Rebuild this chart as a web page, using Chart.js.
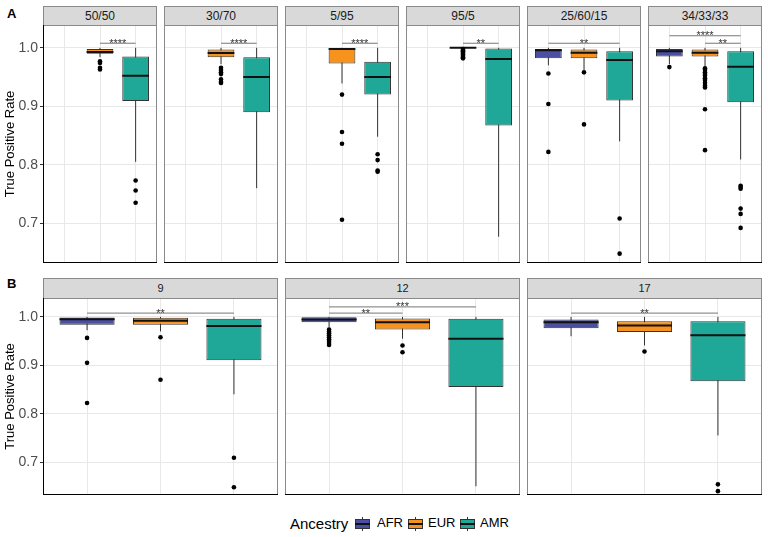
<!DOCTYPE html>
<html>
<head>
<meta charset="utf-8">
<script src="https://cdn.jsdelivr.net/npm/chart.js@4.4.1/dist/chart.umd.min.js"></script>
<style>
body{margin:0;background:#fff;font-family:"Liberation Sans",Arial,sans-serif;}
#fig{position:relative;width:768px;height:537px;overflow:hidden;background:#fff;}
canvas{position:absolute;}
.strip{position:absolute;box-sizing:border-box;background:#d9d9d9;border:1px solid #8a8a8a;color:#1a1a1a;text-align:center;}
.tag{position:absolute;font-weight:bold;font-size:13px;color:#000;}
.leg{position:absolute;color:#000;white-space:nowrap;}
.key{position:absolute;width:15px;height:14px;}
.key .wh{position:absolute;left:7px;top:0;width:1px;height:14px;background:#333;}
.key .bx{position:absolute;left:0;top:2px;width:15px;height:10px;box-sizing:border-box;border:1px solid #333;}
.key .md{position:absolute;left:0;top:6px;width:15px;height:2px;background:#111;}
</style>
</head>
<body>
<div id="fig">
  <div class="tag" style="left:7px;top:6px;">A</div>
  <div class="tag" style="left:7px;top:276px;">B</div>
</div>

<script>
var ancestries = ['AFR', 'EUR', 'AMR'];
var colours = ['#4b4fa2', '#f7931d', '#1fa898'];

var topFacets = ['50/50', '30/70', '5/95', '95/5', '25/60/15', '34/33/33'];
var bottomFacets = ['9', '12', '17'];
var yTicks = [0.7, 0.8, 0.9, 1.0];

// per ancestry: [lower whisker, Q1, median, Q3, upper whisker]; null = not in this mix
var box_50_50 = [null, [0.984, 0.990, 0.993, 0.998, 1.000], [0.805, 0.909, 0.952, 0.985, 1.000]];
var out_50_50 = [[], [0.977, 0.974, 0.966, 0.963], [0.773, 0.756, 0.735]];
var sig_50_50 = [['EUR', 'AMR', '****']];

var box_30_70 = [null, [0.972, 0.984, 0.991, 0.997, 1.000], [0.760, 0.890, 0.950, 0.984, 1.000]];
var out_30_70 = [[], [0.966, 0.962, 0.958, 0.955, 0.946, 0.942, 0.940], []];
var sig_30_70 = [['EUR', 'AMR', '****']];

var box_5_95 = [null, [0.939, 0.973, 0.998, 0.999, 1.000], [0.848, 0.920, 0.950, 0.976, 1.000]];
var out_5_95 = [[], [0.920, 0.856, 0.836, 0.706], [0.818, 0.808, 0.790, 0.788]];
var sig_5_95 = [['EUR', 'AMR', '****']];

var box_95_5 = [null, [1.000, 1.000, 1.000, 1.000, 1.000], [0.677, 0.867, 0.981, 0.999, 1.000]];
var out_95_5 = [[], [0.998, 0.996, 0.994, 0.992, 0.990, 0.988, 0.986, 0.984, 0.982], []];
var sig_95_5 = [['EUR', 'AMR', '**']];

var box_25_60_15 = [[0.970, 0.982, 0.996, 0.998, 1.000], [0.962, 0.982, 0.9915, 0.997, 1.000], [0.840, 0.910, 0.979, 0.994, 1.000]];
var out_25_60_15 = [[0.956, 0.904, 0.822], [0.958, 0.869], [0.708, 0.648]];
var sig_25_60_15 = [['AFR', 'AMR', '**']];

var box_34_33_33 = [[0.972, 0.985, 0.994, 0.998, 1.000], [0.968, 0.985, 0.9915, 0.997, 1.000], [0.809, 0.907, 0.9675, 0.994, 1.000]];
var out_34_33_33 = [[0.967], [0.965, 0.962, 0.958, 0.955, 0.952, 0.948, 0.945, 0.940, 0.935, 0.932, 0.895, 0.825], [0.764, 0.762, 0.759, 0.725, 0.716, 0.692]];
var sig_34_33_33 = [['EUR', 'AMR', '**'], ['AFR', 'AMR', '****']];

var box_9 = [[0.9725, 0.9835, 0.995, 0.9987, 1.000], [0.970, 0.9835, 0.992, 0.998, 1.000], [0.840, 0.9105, 0.981, 0.996, 1.000]];
var out_9 = [[0.9566, 0.905, 0.822], [0.958, 0.870], [0.709, 0.648]];
var sig_9 = [['AFR', 'AMR', '**']];

var box_12 = [[0.978, 0.989, 0.9946, 0.9994, 1.000], [0.955, 0.974, 0.989, 0.9967, 1.000], [0.650, 0.855, 0.9546, 0.996, 1.000]];
var out_12 = [[0.974, 0.970, 0.966, 0.962, 0.958, 0.954, 0.950, 0.946, 0.942], [0.941, 0.927], []];
var sig_12 = [['AFR', 'EUR', '**'], ['AFR', 'AMR', '***']];

var box_17 = [[0.960, 0.9767, 0.989, 0.9946, 1.000], [0.941, 0.969, 0.982, 0.991, 1.000], [0.755, 0.867, 0.962, 0.991, 1.000]];
var out_17 = [[], [0.9285], [0.654, 0.640]];
var sig_17 = [['AFR', 'AMR', '**']];

var topBoxes = [box_50_50, box_30_70, box_5_95, box_95_5, box_25_60_15, box_34_33_33];
var topOut = [out_50_50, out_30_70, out_5_95, out_95_5, out_25_60_15, out_34_33_33];
var topSig = [sig_50_50, sig_30_70, sig_5_95, sig_95_5, sig_25_60_15, sig_34_33_33];
var bottomBoxes = [box_9, box_12, box_17];
var bottomOut = [out_9, out_12, out_17];
var bottomSig = [sig_9, sig_12, sig_17];

var Y_MIN = 0.632, Y_MAX = 1.039;
function sigLevel(k) { return 1.0078 + 0.0128 * k; }

var fig = document.getElementById('fig');

var framePlugin = {
	id: 'frame',
	afterDatasetsDraw: function(chart, args, opts) {
		var ctx = chart.ctx, xs = chart.scales.x, ys = chart.scales.y;
		ctx.save();
		ctx.fillStyle = '#333';
		ctx.font = '11px "Liberation Sans", Arial, sans-serif';
		ctx.textAlign = 'center';
		ctx.textBaseline = 'alphabetic';
		(opts.sig || []).forEach(function(s, k) {
			var a = ancestries.indexOf(s[0]) + 1, b = ancestries.indexOf(s[1]) + 1;
			var px = xs.getPixelForValue((a + b) / 2);
			var py = ys.getPixelForValue(sigLevel(k));
			ctx.fillText(s[2], px, py + 3.5);
		});
		ctx.restore();
	},
	afterDraw: function(chart, args, opts) {
		var ctx = chart.ctx, a = chart.chartArea;
		var l = Math.round(a.left) + 0.5, t = Math.round(a.top) + 0.5;
		var r = Math.round(a.right) - 0.5, b = Math.round(a.bottom) - 0.5;
		ctx.save();
		ctx.lineWidth = 1;
		ctx.strokeStyle = '#8a8a8a';
		ctx.strokeRect(l, t, r - l, b - t);
		ctx.strokeStyle = '#000';
		ctx.beginPath();
		ctx.moveTo(l - 0.5, b); ctx.lineTo(r + 0.5, b);
		if (opts.axis) { ctx.moveTo(l, t - 0.5); ctx.lineTo(l, b + 0.5); }
		ctx.stroke();
		ctx.restore();
	}
};

function makePanel(label, x, y, w, h, stripTop, stripFont, stats, outl, sig, withAxis) {
	var strip = document.createElement('div');
	strip.className = 'strip';
	strip.style.left = x + 'px';
	strip.style.top = stripTop + 'px';
	strip.style.width = w + 'px';
	strip.style.height = (y - stripTop + 1) + 'px';
	strip.style.fontSize = stripFont + 'px';
	strip.style.lineHeight = (y - stripTop - 1) + 'px';
	strip.textContent = label;
	fig.appendChild(strip);

	var cv = document.createElement('canvas');
	var cx = withAxis ? 0 : x - 1;
	cv.width = x + w + 1 - cx;
	cv.height = h + 2;
	cv.style.left = cx + 'px';
	cv.style.top = (y - 1) + 'px';
	fig.appendChild(cv);

	var whiskers = [], boxes = [], boxCols = [], medians = [], points = [], brackets = [];
	stats.forEach(function(s, i) {
		if (!s) return;
		var xi = i + 1;
		whiskers.push({x: xi, y: s[0]}, {x: xi, y: s[4]}, {x: xi, y: null});
		boxes.push({x: xi, y: [s[1], s[3]]});
		boxCols.push(colours[i]);
		medians.push({x: xi - 0.375, y: s[2]}, {x: xi + 0.375, y: s[2]}, {x: xi, y: null});
		outl[i].forEach(function(v) { points.push({x: xi, y: v}); });
	});
	sig.forEach(function(s, k) {
		var a = ancestries.indexOf(s[0]) + 1, b = ancestries.indexOf(s[1]) + 1;
		brackets.push({x: a, y: sigLevel(k)}, {x: b, y: sigLevel(k)}, {x: a, y: null});
	});

	new Chart(cv, {
		type: 'bar',
		data: {
			datasets: [
				{type: 'line', data: whiskers, borderColor: '#333', borderWidth: 1, pointRadius: 0, spanGaps: false, order: 5},
				{type: 'bar', data: boxes, backgroundColor: boxCols, borderColor: '#333', borderWidth: 1,
				 borderSkipped: false, barPercentage: 0.75, categoryPercentage: 1, order: 4},
				{type: 'line', data: medians, borderColor: '#111', borderWidth: 2, pointRadius: 0, spanGaps: false, order: 3},
				{type: 'line', data: points, showLine: false, pointRadius: 2.3, pointBackgroundColor: '#000',
				 pointBorderWidth: 0, order: 2},
				{type: 'line', data: brackets, borderColor: '#777', borderWidth: 1, pointRadius: 0, spanGaps: false, order: 1}
			]
		},
		options: {
			responsive: false,
			animation: false,
			devicePixelRatio: 1,
			layout: {autoPadding: false, padding: {left: withAxis ? 0 : 1, right: 1, top: 1, bottom: 1}},
			plugins: {legend: {display: false}, tooltip: {enabled: false}, frame: {sig: sig, axis: withAxis}},
			scales: {
				x: {
					type: 'linear', min: 0.4, max: 3.6, offset: false,
					afterBuildTicks: function(s) { s.ticks = [1, 2, 3].map(function(v) { return {value: v}; }); },
					afterFit: function(s) { s.height = 0; s.paddingLeft = 0; s.paddingRight = 0; },
					ticks: {display: false},
					grid: {color: '#e8e8e8', lineWidth: 1, drawTicks: false, offset: false},
					border: {display: false}
				},
				y: {
					min: Y_MIN, max: Y_MAX,
					afterBuildTicks: function(s) { s.ticks = yTicks.map(function(v) { return {value: v}; }); },
					afterFit: function(s) { s.width = withAxis ? x : 0; s.paddingTop = 0; s.paddingBottom = 0; },
					ticks: {display: withAxis, color: '#4d4d4d', padding: 2,
						font: {family: '"Liberation Sans", Arial, sans-serif', size: 14},
						callback: function(v) { return Number(v).toFixed(1); }},
					grid: {color: '#e8e8e8', lineWidth: 1, drawTicks: withAxis, tickLength: 3, tickColor: '#333'},
					border: {display: false},
					title: {display: withAxis, text: 'True Positive Rate', color: '#000',
						font: {family: '"Liberation Sans", Arial, sans-serif', size: 13},
						padding: {top: 3, bottom: 0}}
				}
			}
		},
		plugins: [framePlugin]
	});
}

var LEFT = 43, RIGHT = 762, GAP = 7;
var topW = (RIGHT - LEFT - GAP * 5) / 6;
topFacets.forEach(function(f, i) {
	var x = Math.round(LEFT + i * (topW + GAP));
	makePanel(f, x, 25, Math.round(topW), 238, 6, 12, topBoxes[i], topOut[i], topSig[i], i === 0);
});
var botW = (RIGHT - LEFT - GAP * 2) / 3;
bottomFacets.forEach(function(f, i) {
	var x = Math.round(LEFT + i * (botW + GAP));
	makePanel(f, x, 298, Math.round(botW), 197, 278, 11, bottomBoxes[i], bottomOut[i], bottomSig[i], i === 0);
});

// legend
function addLeg(text, left, size) {
	var d = document.createElement('div');
	d.className = 'leg';
	d.style.left = left + 'px';
	d.style.top = (524 - size * 0.58) + 'px';
	d.style.fontSize = size + 'px';
	d.style.lineHeight = '1.15';
	d.textContent = text;
	fig.appendChild(d);
}
addLeg('Ancestry', 290, 15);
var keyLeft = [355, 408, 460], labLeft = [377, 428, 480];
ancestries.forEach(function(a, i) {
	var k = document.createElement('div');
	k.className = 'key';
	k.style.left = keyLeft[i] + 'px';
	k.style.top = '517px';
	k.innerHTML = '<div class="wh"></div><div class="bx" style="background:' + colours[i] + '"></div><div class="md"></div>';
	fig.appendChild(k);
	addLeg(a, labLeft[i], 13);
});
</script>
</body>
</html>
